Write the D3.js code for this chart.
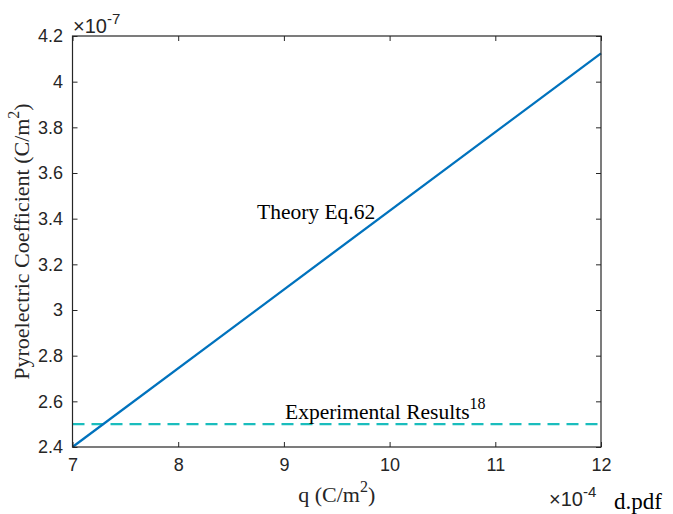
<!DOCTYPE html>
<html lang="en">
<head>
    <meta charset="UTF-8">
    <title>Pyroelectric Coefficient</title>
    <script src="https://d3js.org/d3.v7.min.js"></script>
    <style>
        body { margin: 0; background: #fff; }
        svg { display: block; }
    </style>
</head>
<body>
    <svg width="673" height="514"></svg>
    <script>
        // data (q in units of 1e-4 C/m^2, coefficient in 1e-7 C/m^2)
        const theoryQ = [7, 12];
        const theoryP = [2.40, 4.124];
        const expQ = [7, 12];
        const expP = [2.5, 2.5];
        const xTicks = [7, 8, 9, 10, 11, 12];
        const yTicks = [2.4, 2.6, 2.8, 3, 3.2, 3.4, 3.6, 3.8, 4, 4.2];

        const width = 673, height = 514;
        const margin = {top: 36, right: 72, bottom: 67, left: 72.5};

        const svg = d3.select("svg");

        const x = d3.scaleLinear()
            .domain([7, 12])
            .range([margin.left, width - margin.right]);
        const y = d3.scaleLinear()
            .domain([2.4, 4.2])
            .range([height - margin.bottom, margin.top]);

        const tickFont = "'Liberation Sans', Arial, Helvetica, sans-serif";
        const serif = "'Liberation Serif', 'Times New Roman', serif";
        const axisColor = "#262626";

        // data lines
        const line = d3.line().x(d => x(d[0])).y(d => y(d[1]));

        svg.append("path")
            .datum(d3.zip(expQ, expP))
            .attr("fill", "none")
            .attr("stroke", "#1ABDBD")
            .attr("stroke-width", 2.3)
            .attr("stroke-dasharray", "12,7")
            .attr("d", line);

        svg.append("path")
            .datum(d3.zip(theoryQ, theoryP))
            .attr("fill", "none")
            .attr("stroke", "#0072BD")
            .attr("stroke-width", 2.3)
            .attr("d", line);

        // axes (MATLAB style: box with inward ticks on all sides)
        function styleAxis(g) {
            g.select(".domain").remove();
            g.selectAll(".tick line").attr("stroke", axisColor);
            g.selectAll(".tick text")
                .attr("fill", axisColor)
                .style("font-family", tickFont)
                .style("font-size", "18px");
        }

        svg.append("g")
            .attr("transform", `translate(0,${y(2.4)})`)
            .call(d3.axisBottom(x).tickValues(xTicks).tickFormat(d3.format("d"))
                .tickSizeInner(-5).tickSizeOuter(0).tickPadding(11))
            .call(styleAxis);

        svg.append("g")
            .attr("transform", `translate(0,${y(4.2)})`)
            .call(d3.axisTop(x).tickValues(xTicks).tickFormat("")
                .tickSizeInner(-5).tickSizeOuter(0))
            .call(styleAxis);

        svg.append("g")
            .attr("transform", `translate(${x(7)},0)`)
            .call(d3.axisLeft(y).tickValues(yTicks).tickFormat(d => d3.format("")(+d.toFixed(1)))
                .tickSizeInner(-5).tickSizeOuter(0).tickPadding(9.5))
            .call(styleAxis);

        svg.append("g")
            .attr("transform", `translate(${x(12)},0)`)
            .call(d3.axisRight(y).tickValues(yTicks).tickFormat("")
                .tickSizeInner(-5).tickSizeOuter(0))
            .call(styleAxis);

        svg.append("rect")
            .attr("x", x(7)).attr("y", y(4.2))
            .attr("width", x(12) - x(7)).attr("height", y(2.4) - y(4.2))
            .attr("fill", "none")
            .attr("stroke", axisColor)
            .attr("stroke-width", 1.2);

        // exponent labels
        const yExp = svg.append("text")
            .attr("x", x(7) + 0.5).attr("y", 33)
            .attr("fill", axisColor)
            .style("font-family", tickFont).style("font-size", "20px");
        yExp.append("tspan").text("\u00d710");
        yExp.append("tspan").attr("dy", -9).style("font-size", "15px").text("-7");

        const xExp = svg.append("text")
            .attr("x", 549).attr("y", 506)
            .attr("fill", axisColor)
            .style("font-family", tickFont).style("font-size", "20px");
        xExp.append("tspan").text("\u00d710");
        xExp.append("tspan").attr("dy", -9).style("font-size", "15px").text("-4");

        // axis titles
        const xLab = svg.append("text")
            .attr("x", (x(7) + x(12)) / 2).attr("y", 502)
            .attr("text-anchor", "middle")
            .attr("fill", axisColor)
            .style("font-family", serif).style("font-size", "22px");
        xLab.append("tspan").text("q (C/m");
        xLab.append("tspan").attr("dy", -10).style("font-size", "16px").text("2");
        xLab.append("tspan").attr("dy", 10).text(")");

        const yLab = svg.append("text")
            .attr("transform", `translate(29,${(y(2.4) + y(4.2)) / 2}) rotate(-90)`)
            .attr("text-anchor", "middle")
            .attr("fill", axisColor)
            .style("font-family", serif).style("font-size", "22px");
        yLab.append("tspan").text("Pyroelectric Coefficient (C/m");
        yLab.append("tspan").attr("dy", -10).style("font-size", "16px").text("2");
        yLab.append("tspan").attr("dy", 10).text(")");

        // annotations
        svg.append("text")
            .attr("x", 257).attr("y", 219)
            .attr("fill", "#000")
            .style("font-family", serif).style("font-size", "21.5px")
            .text("Theory Eq.62");

        const expLab = svg.append("text")
            .attr("x", 285).attr("y", 419)
            .attr("fill", "#000")
            .style("font-family", serif).style("font-size", "21.5px");
        expLab.append("tspan").text("Experimental Results");
        expLab.append("tspan").attr("dy", -10).style("font-size", "16px").text("18");

        svg.append("text")
            .attr("x", 614).attr("y", 509)
            .attr("fill", "#000")
            .style("font-family", serif).style("font-size", "23px")
            .text("d.pdf");
    </script>
</body>
</html>
